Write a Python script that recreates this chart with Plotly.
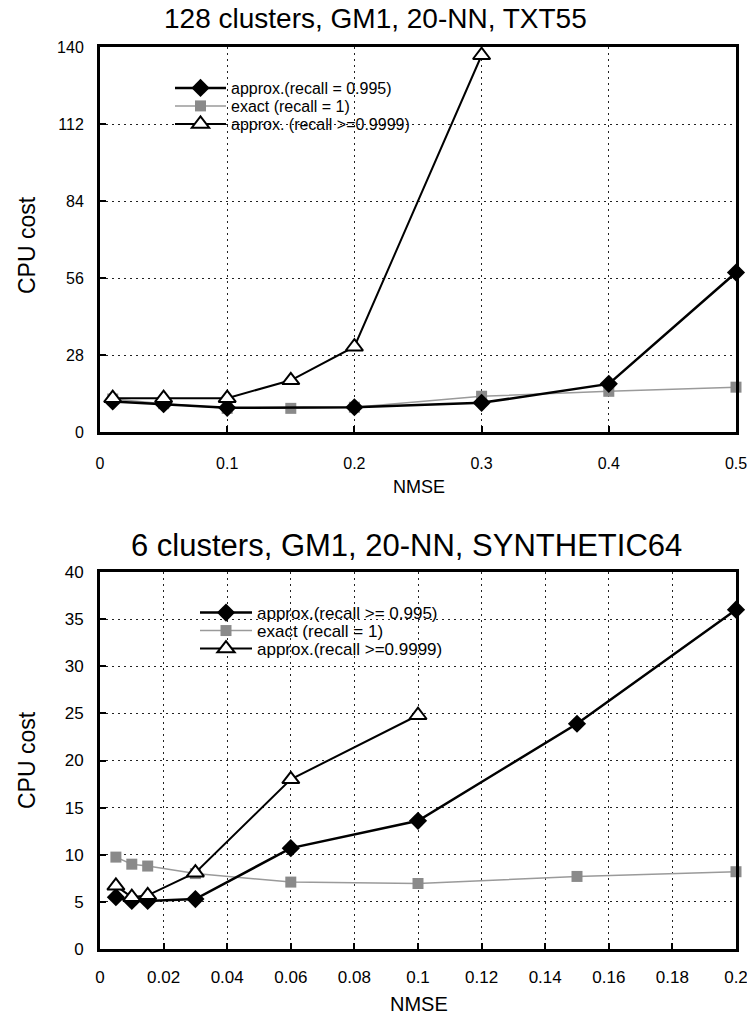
import plotly.graph_objects as go

# ---------------- data ----------------
top_x_approx = [0.01, 0.05, 0.1, 0.2, 0.3, 0.4, 0.5]
top_y_approx = [11.1, 10.1, 8.8, 9.0, 10.6, 17.5, 58.0]
top_x_exact = [0.01, 0.05, 0.1, 0.15, 0.2, 0.3, 0.4, 0.5]
top_y_exact = [12.0, 10.3, 8.6, 8.6, 9.0, 13.0, 14.8, 16.3]
top_x_strict = [0.01, 0.05, 0.1, 0.15, 0.2, 0.3]
top_y_strict = [12.3, 12.3, 12.3, 18.8, 31.0, 137.0]

bot_x_approx = [0.005, 0.01, 0.015, 0.03, 0.06, 0.1, 0.15, 0.2]
bot_y_approx = [5.5, 5.1, 5.1, 5.3, 10.7, 13.6, 23.9, 36.0]
bot_x_exact = [0.005, 0.01, 0.015, 0.03, 0.06, 0.1, 0.15, 0.2]
bot_y_exact = [9.75, 9.0, 8.8, 8.0, 7.1, 6.95, 7.7, 8.2]
bot_x_strict = [0.005, 0.01, 0.015, 0.03, 0.06, 0.1]
bot_y_strict = [6.7, 5.5, 5.7, 8.1, 18.0, 24.8]

top_title = "128 clusters, GM1, 20-NN, TXT55"
bot_title = "6 clusters, GM1, 20-NN, SYNTHETIC64"
top_names = ["approx.(recall = 0.995)", "exact (recall = 1)", "approx. (recall >=0.9999)"]
bot_names = ["approx.(recall >= 0.995)", "exact (recall = 1)", "approx.(recall >=0.9999)"]
x_title = "NMSE"
y_title = "CPU cost"

top_yticks = [0, 28, 56, 84, 112, 140]
top_xticks = [0, 0.1, 0.2, 0.3, 0.4, 0.5]
bot_yticks = [0, 5, 10, 15, 20, 25, 30, 35, 40]
bot_xticks = [0, 0.02, 0.04, 0.06, 0.08, 0.1, 0.12, 0.14, 0.16, 0.18, 0.2]

FONT = "Liberation Sans, Arial, sans-serif"
W, H = 747, 1018
RIGHT = 736


def px_x(p):
    return p / W


def px_y(p):
    return 1 - p / H


fig = go.Figure()

STYLES = {
    "approx": dict(line=dict(color="black", width=2.5),
                   marker=dict(symbol="diamond", size=14, color="black")),
    "exact": dict(line=dict(color="#9a9a9a", width=1.5),
                  marker=dict(symbol="square", size=11, color="#8a8a8a")),
    "strict": dict(line=dict(color="black", width=2),
                   marker=dict(symbol="triangle-up", size=15, color="white",
                               line=dict(color="black", width=2))),
}


def add_series(xs, ys, name, kind, xa, ya, legend):
    st = STYLES[kind]
    fig.add_trace(go.Scatter(x=xs, y=ys, name=name, mode="lines+markers",
                             line=st["line"], marker=st["marker"],
                             xaxis=xa, yaxis=ya, legend=legend,
                             cliponaxis=False))


add_series(top_x_exact, top_y_exact, top_names[1], "exact", "x", "y", "legend2")
add_series(top_x_approx, top_y_approx, top_names[0], "approx", "x", "y", "legend")
add_series(top_x_strict, top_y_strict, top_names[2], "strict", "x", "y", "legend3")
add_series(bot_x_exact, bot_y_exact, bot_names[1], "exact", "x2", "y2", "legend5")
add_series(bot_x_approx, bot_y_approx, bot_names[0], "approx", "x2", "y2", "legend4")
add_series(bot_x_strict, bot_y_strict, bot_names[2], "strict", "x2", "y2", "legend6")


def axis(size, standoff, **kw):
    d = dict(
        showline=True, linecolor="black", linewidth=3, mirror=True,
        ticks="inside", ticklen=6, tickwidth=2, tickcolor="black",
        showgrid=True, gridcolor="#222222", gridwidth=1, griddash="2px,4px",
        zeroline=False, automargin=False, ticklabeloverflow="allow",
        ticklabelstandoff=standoff,
        tickfont=dict(family=FONT, size=size, color="black"),
    )
    d.update(kw)
    return d


def leg(x, y, size, itemwidth):
    return dict(x=px_x(x), y=px_y(y), xanchor="left", yanchor="middle",
                bgcolor="rgba(0,0,0,0)", font=dict(size=size, family=FONT, color="black"),
                tracegroupgap=0, itemwidth=itemwidth, borderwidth=0)


def label(text, x, y, size, angle=0):
    return dict(text=text, x=px_x(x), y=px_y(y), xref="paper", yref="paper",
                xanchor="center", yanchor="middle", showarrow=False,
                textangle=angle, font=dict(size=size, family=FONT, color="black"))


fig.update_layout(
    width=W, height=H,
    margin=dict(l=0, r=0, t=0, b=0, autoexpand=False),
    paper_bgcolor="white", plot_bgcolor="white",
    font=dict(family=FONT, color="black"),
    xaxis=axis(16, 15, domain=[px_x(100), px_x(RIGHT)], anchor="y",
               range=[0, 0.5], tickvals=top_xticks),
    yaxis=axis(16, 10, domain=[px_y(432), px_y(47)], anchor="x",
               range=[0, 140], tickvals=top_yticks),
    xaxis2=axis(17, 11, domain=[px_x(100), px_x(RIGHT)], anchor="y2",
                range=[0, 0.2], tickvals=bot_xticks),
    yaxis2=axis(17, 10, domain=[px_y(949), px_y(572)], anchor="x2",
                range=[0, 40], tickvals=bot_yticks),
    legend=leg(170, 88, 16, 51),
    legend2=leg(170, 106, 16, 51),
    legend3=leg(170, 124, 16, 51),
    legend4=leg(195, 613, 17, 52),
    legend5=leg(195, 631, 17, 52),
    legend6=leg(195, 649, 17, 52),
    showlegend=True,
    annotations=[
        label(top_title, 375, 18, 28),
        label(bot_title, 406, 545, 31),
        label(x_title, 419, 487, 18),
        label(x_title, 419, 1004, 20),
        label(y_title, 27, 245, 23, -90),
        label(y_title, 27, 760, 23, -90),
    ],
)

fig.write_html("out.html")
